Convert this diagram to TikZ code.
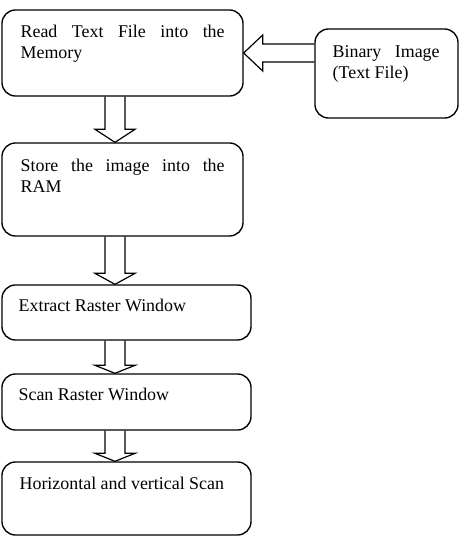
\documentclass[tikz,border=0pt]{standalone}
\usepackage{fontspec}
\setmainfont{Liberation Serif}
\usetikzlibrary{calc}
\tolerance=10000
\hyphenpenalty=10000

\begin{document}
\begin{tikzpicture}[x=0.67pt, y=-0.67pt,
  box/.style={draw, rounded corners=9pt, line width=0.9pt, inner sep=0pt},
  txt/.style={anchor=base west, inner sep=0pt, align=justify, text width=#1*0.67pt,
    font=\fontsize{12}{14}\selectfont},
  txt/.default=220,
  blockarrow/.style={draw, line width=0.8pt, line join=miter}]
\useasboundingbox (0,0) rectangle (462,544);
% boxes
\node[box, minimum width=241*0.67pt, minimum height=86*0.67pt] (read) at (122.5,53) {};
\node[box, minimum width=143*0.67pt, minimum height=89*0.67pt] (binary) at (386.5,73.5) {};
\node[box, minimum width=241*0.67pt, minimum height=93*0.67pt] (store) at (122.5,189.5) {};
\node[box, minimum width=249*0.67pt, minimum height=55*0.67pt] (extract) at (126.5,312.5) {};
\node[box, minimum width=249*0.67pt, minimum height=56*0.67pt] (scan) at (126.5,402) {};
\node[box, minimum width=249*0.67pt, minimum height=73*0.67pt] (horiz) at (126.5,498.5) {};
% texts
\node[txt=204] (readtxt) at ($(read.north west)+(19,28)$) {Read Text File into the Memory};
\node[txt=107] (binarytxt) at ($(binary.north west)+(18,29)$) {Binary Image (Text File)};
\node[txt=204] (storetxt) at ($(store.north west)+(19,29)$) {Store the image into the RAM};
\node[txt] (extracttxt) at ($(extract.north west)+(17,27)$) {Extract Raster Window};
\node[txt] (scantxt) at ($(scan.north west)+(17,27)$) {Scan Raster Window};
\node[txt] (horiztxt) at ($(horiz.north west)+(18,28)$) {Horizontal and vertical Scan};
% block arrows
\coordinate (axis) at (115,0);
\coordinate (tail) at (binary.west |- read.east);
\draw[blockarrow] ($(tail)+(0,-9)$) -- ($(read.east)+(19,-9)$) -- ($(read.east)+(19,-18)$)
  -- (read.east) -- ($(read.east)+(19,18)$) -- ($(read.east)+(19,9)$) -- ($(tail)+(0,9)$);
\foreach \a/\b/\h in {read/store/13, store/extract/11, extract/scan/8, scan/horiz/8}
  \draw[blockarrow] ($(\a.south -| axis)+(-10,0)$) -- ($(\b.north -| axis)+(-10,-\h)$)
    -- ($(\b.north -| axis)+(-20,-\h)$) -- (\b.north -| axis) -- ($(\b.north -| axis)+(20,-\h)$)
    -- ($(\b.north -| axis)+(10,-\h)$) -- ($(\a.south -| axis)+(10,0)$);
\end{tikzpicture}
\end{document}
